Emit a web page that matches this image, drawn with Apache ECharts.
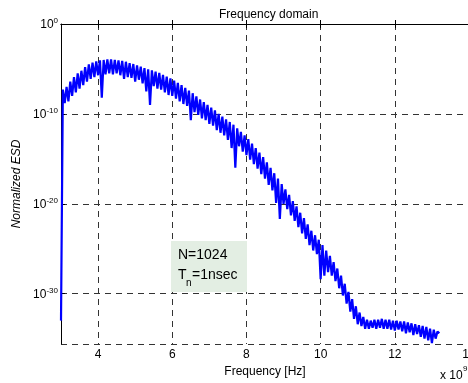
<!DOCTYPE html>
<html><head><meta charset="utf-8">
<script src="https://cdn.jsdelivr.net/npm/echarts@6/dist/echarts.min.js"></script>
<style>html,body{margin:0;padding:0;background:#fff}#c{width:468px;height:383px}</style>
</head><body><div id="c"></div>
<script>
// Frequency samples (GHz) and normalized ESD (log10 values)
const freqGHz = [3.00,
3.05,3.10,3.15,3.20,3.25,3.30,3.35,3.40,3.45,3.50,3.55,3.60,3.65,3.70,3.75,3.80,3.85,3.90,3.95,4.00,
4.05,4.10,4.15,4.20,4.25,4.30,4.35,4.40,4.45,4.50,4.55,4.60,4.65,4.70,4.75,4.80,4.85,4.90,4.95,5.00,
5.05,5.10,5.15,5.20,5.25,5.30,5.35,5.40,5.45,5.50,5.55,5.60,5.65,5.70,5.75,5.80,5.85,5.90,5.95,6.00,
6.05,6.10,6.15,6.20,6.25,6.30,6.35,6.40,6.45,6.50,6.55,6.60,6.65,6.70,6.75,6.80,6.85,6.90,6.95,7.00,
7.05,7.10,7.15,7.20,7.25,7.30,7.35,7.40,7.45,7.50,7.55,7.60,7.65,7.70,7.75,7.80,7.85,7.90,7.95,8.00,
8.05,8.10,8.15,8.20,8.25,8.30,8.35,8.40,8.45,8.50,8.55,8.60,8.65,8.70,8.75,8.80,8.85,8.90,8.95,9.00,
9.05,9.10,9.15,9.20,9.25,9.30,9.35,9.40,9.45,9.50,9.55,9.60,9.65,9.70,9.75,9.80,9.85,9.90,9.95,10.00,
10.05,10.10,10.15,10.20,10.25,10.30,10.35,10.40,10.45,10.50,10.55,10.60,10.65,10.70,10.75,10.80,10.85,10.90,10.95,11.00,
11.05,11.10,11.15,11.20,11.25,11.30,11.35,11.40,11.45,11.50,11.55,11.60,11.65,11.70,11.75,11.80,11.85,11.90,11.95,12.00,
12.05,12.10,12.15,12.20,12.25,12.30,12.35,12.40,12.45,12.50,12.55,12.60,12.65,12.70,12.75,12.80,12.85,12.90,12.95,13.00,
13.05,13.10,13.15,13.20];
const esdLog10 = [-33.0,
-7.3,-8.8,-7.0,-8.6,-6.4,-8.0,-5.9,-7.6,-5.5,-7.2,-5.2,-6.8,-4.8,-6.4,-4.5,-6.1,-4.3,-5.9,-4.15,-5.7,
-4.05,-8.2,-4.0,-5.6,-3.95,-5.5,-3.95,-5.6,-4.0,-5.5,-4.05,-5.7,-4.1,-6.1,-4.2,-5.9,-4.35,-6.0,-4.45,-6.4,
-4.6,-6.2,-4.75,-6.6,-4.9,-7.5,-5.05,-9.0,-5.15,-6.9,-5.3,-7.2,-5.45,-7.3,-5.65,-7.6,-5.85,-7.9,-6.05,-8.0,
-6.3,-8.3,-6.55,-8.6,-6.8,-8.9,-7.1,-9.1,-7.4,-10.7,-7.7,-9.8,-8.05,-10.1,-8.4,-10.5,-8.7,-10.7,-9.0,-11.1,
-9.3,-11.3,-9.6,-11.8,-10.0,-12.1,-10.3,-12.4,-10.6,-12.9,-10.9,-13.8,-11.2,-16.0,-11.6,-13.6,-12.0,-14.2,-12.4,-14.6,
-12.8,-15.1,-13.3,-15.6,-13.8,-16.1,-14.3,-16.7,-14.8,-17.2,-15.4,-17.9,-16.0,-18.5,-16.6,-19.9,-17.2,-21.7,-17.8,-20.0,
-18.4,-20.6,-19.0,-21.3,-19.7,-21.9,-20.3,-22.6,-21.0,-23.3,-21.6,-23.9,-22.3,-24.6,-23.0,-25.2,-23.5,-25.6,-24.0,-28.4,
-24.6,-28.0,-25.2,-27.6,-25.8,-28.0,-26.5,-28.6,-27.2,-29.4,-28.0,-30.2,-28.9,-31.1,-29.8,-32.0,-30.6,-32.8,-31.4,-33.4,
-32.1,-33.6,-32.6,-33.9,-32.9,-33.9,-33.0,-33.8,-32.9,-33.9,-32.9,-33.8,-32.8,-33.9,-32.9,-33.9,-32.9,-34.0,-33.0,-34.1,
-33.0,-34.0,-33.1,-34.2,-33.1,-34.4,-33.2,-34.3,-33.3,-34.6,-33.4,-34.5,-33.5,-34.8,-33.6,-35.0,-33.7,-35.2,-33.9,-35.5,
-34.0,-35.0,-34.2,-34.4];

const xTickLabels = ['4','6','8','10','12','14'];
const yTickExponents = ['0','-10','-20','-30'];

const FONT = '"Liberation Sans", Arial, Helvetica, sans-serif';
const data = freqGHz.map((f, i) => [f, esdLog10[i]]);

const chart = echarts.init(document.getElementById('c'), null, {renderer: 'canvas'});
const gridDash = {type: [6, 5], color: '#333333', width: 1};

chart.setOption({
  animation: false,
  backgroundColor: '#ffffff',
  title: {
    text: 'Frequency domain', left: 214, top: 4,
    textStyle: {fontFamily: FONT, fontSize: 12, fontWeight: 'normal', color: '#000'}
  },
  grid: {left: 61, top: 24, width: 408, height: 320, containLabel: false, outerBoundsMode: 'none'},
  xAxis: [{
    type: 'value', min: 3, max: 14, splitNumber: 5,
    name: 'Frequency [Hz]', nameLocation: 'middle', nameGap: 19,
    nameTextStyle: {fontFamily: FONT, fontSize: 12, color: '#000'},
    axisLine: {show: true, lineStyle: {color: '#000', width: 1}},
    axisTick: {show: true, inside: true, length: 4, lineStyle: {color: '#000'}},
    axisLabel: {
      showMinLabel: false, margin: 5, color: '#000', fontFamily: FONT, fontSize: 12,
      formatter: v => { const s = String(Math.round(v)); return xTickLabels.indexOf(s) >= 0 && Math.abs(v - Math.round(v)) < 1e-9 ? s : ''; }
    },
    splitLine: {show: true, lineStyle: gridDash}
  }, {
    type: 'value', min: 3, max: 14, splitNumber: 5, position: 'top',
    axisLine: {show: true, onZero: false, lineStyle: {color: '#000', width: 1}},
    axisTick: {show: true, inside: true, length: 4, lineStyle: {color: '#000'}},
    axisLabel: {show: false}, splitLine: {show: false}
  }],
  yAxis: [{
    type: 'value', min: -35.6, max: 0, splitNumber: 4,
    name: 'Normalized ESD', nameLocation: 'middle', nameGap: 36, nameRotate: 90,
    nameTextStyle: {fontFamily: FONT, fontSize: 12, fontStyle: 'italic', color: '#000'},
    axisLine: {show: true, onZero: false, lineStyle: {color: '#000', width: 1}},
    axisTick: {show: true, inside: true, length: 4, lineStyle: {color: '#000'}},
    axisLabel: {
      showMinLabel: false, margin: 3, color: '#000',
      formatter: v => {
        const e = String(Math.round(v));
        if (Math.abs(v - Math.round(v)) > 1e-9 || yTickExponents.indexOf(e) < 0) return '';
        return '{b|10}{e|' + e + '}';
      },
      rich: {
        b: {fontFamily: FONT, fontSize: 12, color: '#000', lineHeight: 14, verticalAlign: 'bottom'},
        e: {fontFamily: FONT, fontSize: 8, color: '#000', lineHeight: 14, verticalAlign: 'top', padding: [0, 0, 9, 0]}
      }
    },
    splitLine: {show: true, lineStyle: gridDash}
  }],
  series: [{
    type: 'line', data: data, showSymbol: false, symbol: 'none',
    lineStyle: {color: '#0000ff', width: 2.2}, clip: true, z: 5
  }],
  graphic: [
    {type: 'rect', left: 171, top: 241, z: 10, shape: {width: 76, height: 51}, style: {fill: '#e3eee3'}},
    {type: 'text', left: 178, top: 248, z: 11, style: {text: 'N=1024', font: '14px ' + FONT, fill: '#000'}},
    {type: 'text', left: 178, top: 268, z: 11, style: {text: 'T', font: '14px ' + FONT, fill: '#000'}},
    {type: 'text', left: 186, top: 278, z: 11, style: {text: 'n', font: '10px ' + FONT, fill: '#000'}},
    {type: 'text', left: 192, top: 268, z: 11, style: {text: '=1nsec', font: '14px ' + FONT, fill: '#000'}},
    {type: 'text', left: 440, top: 370, z: 11, style: {text: 'x 10', font: '12px ' + FONT, fill: '#000'}},
    {type: 'text', left: 463, top: 365, z: 11, style: {text: '9', font: '8px ' + FONT, fill: '#000'}}
  ]
});
</script></body></html>
